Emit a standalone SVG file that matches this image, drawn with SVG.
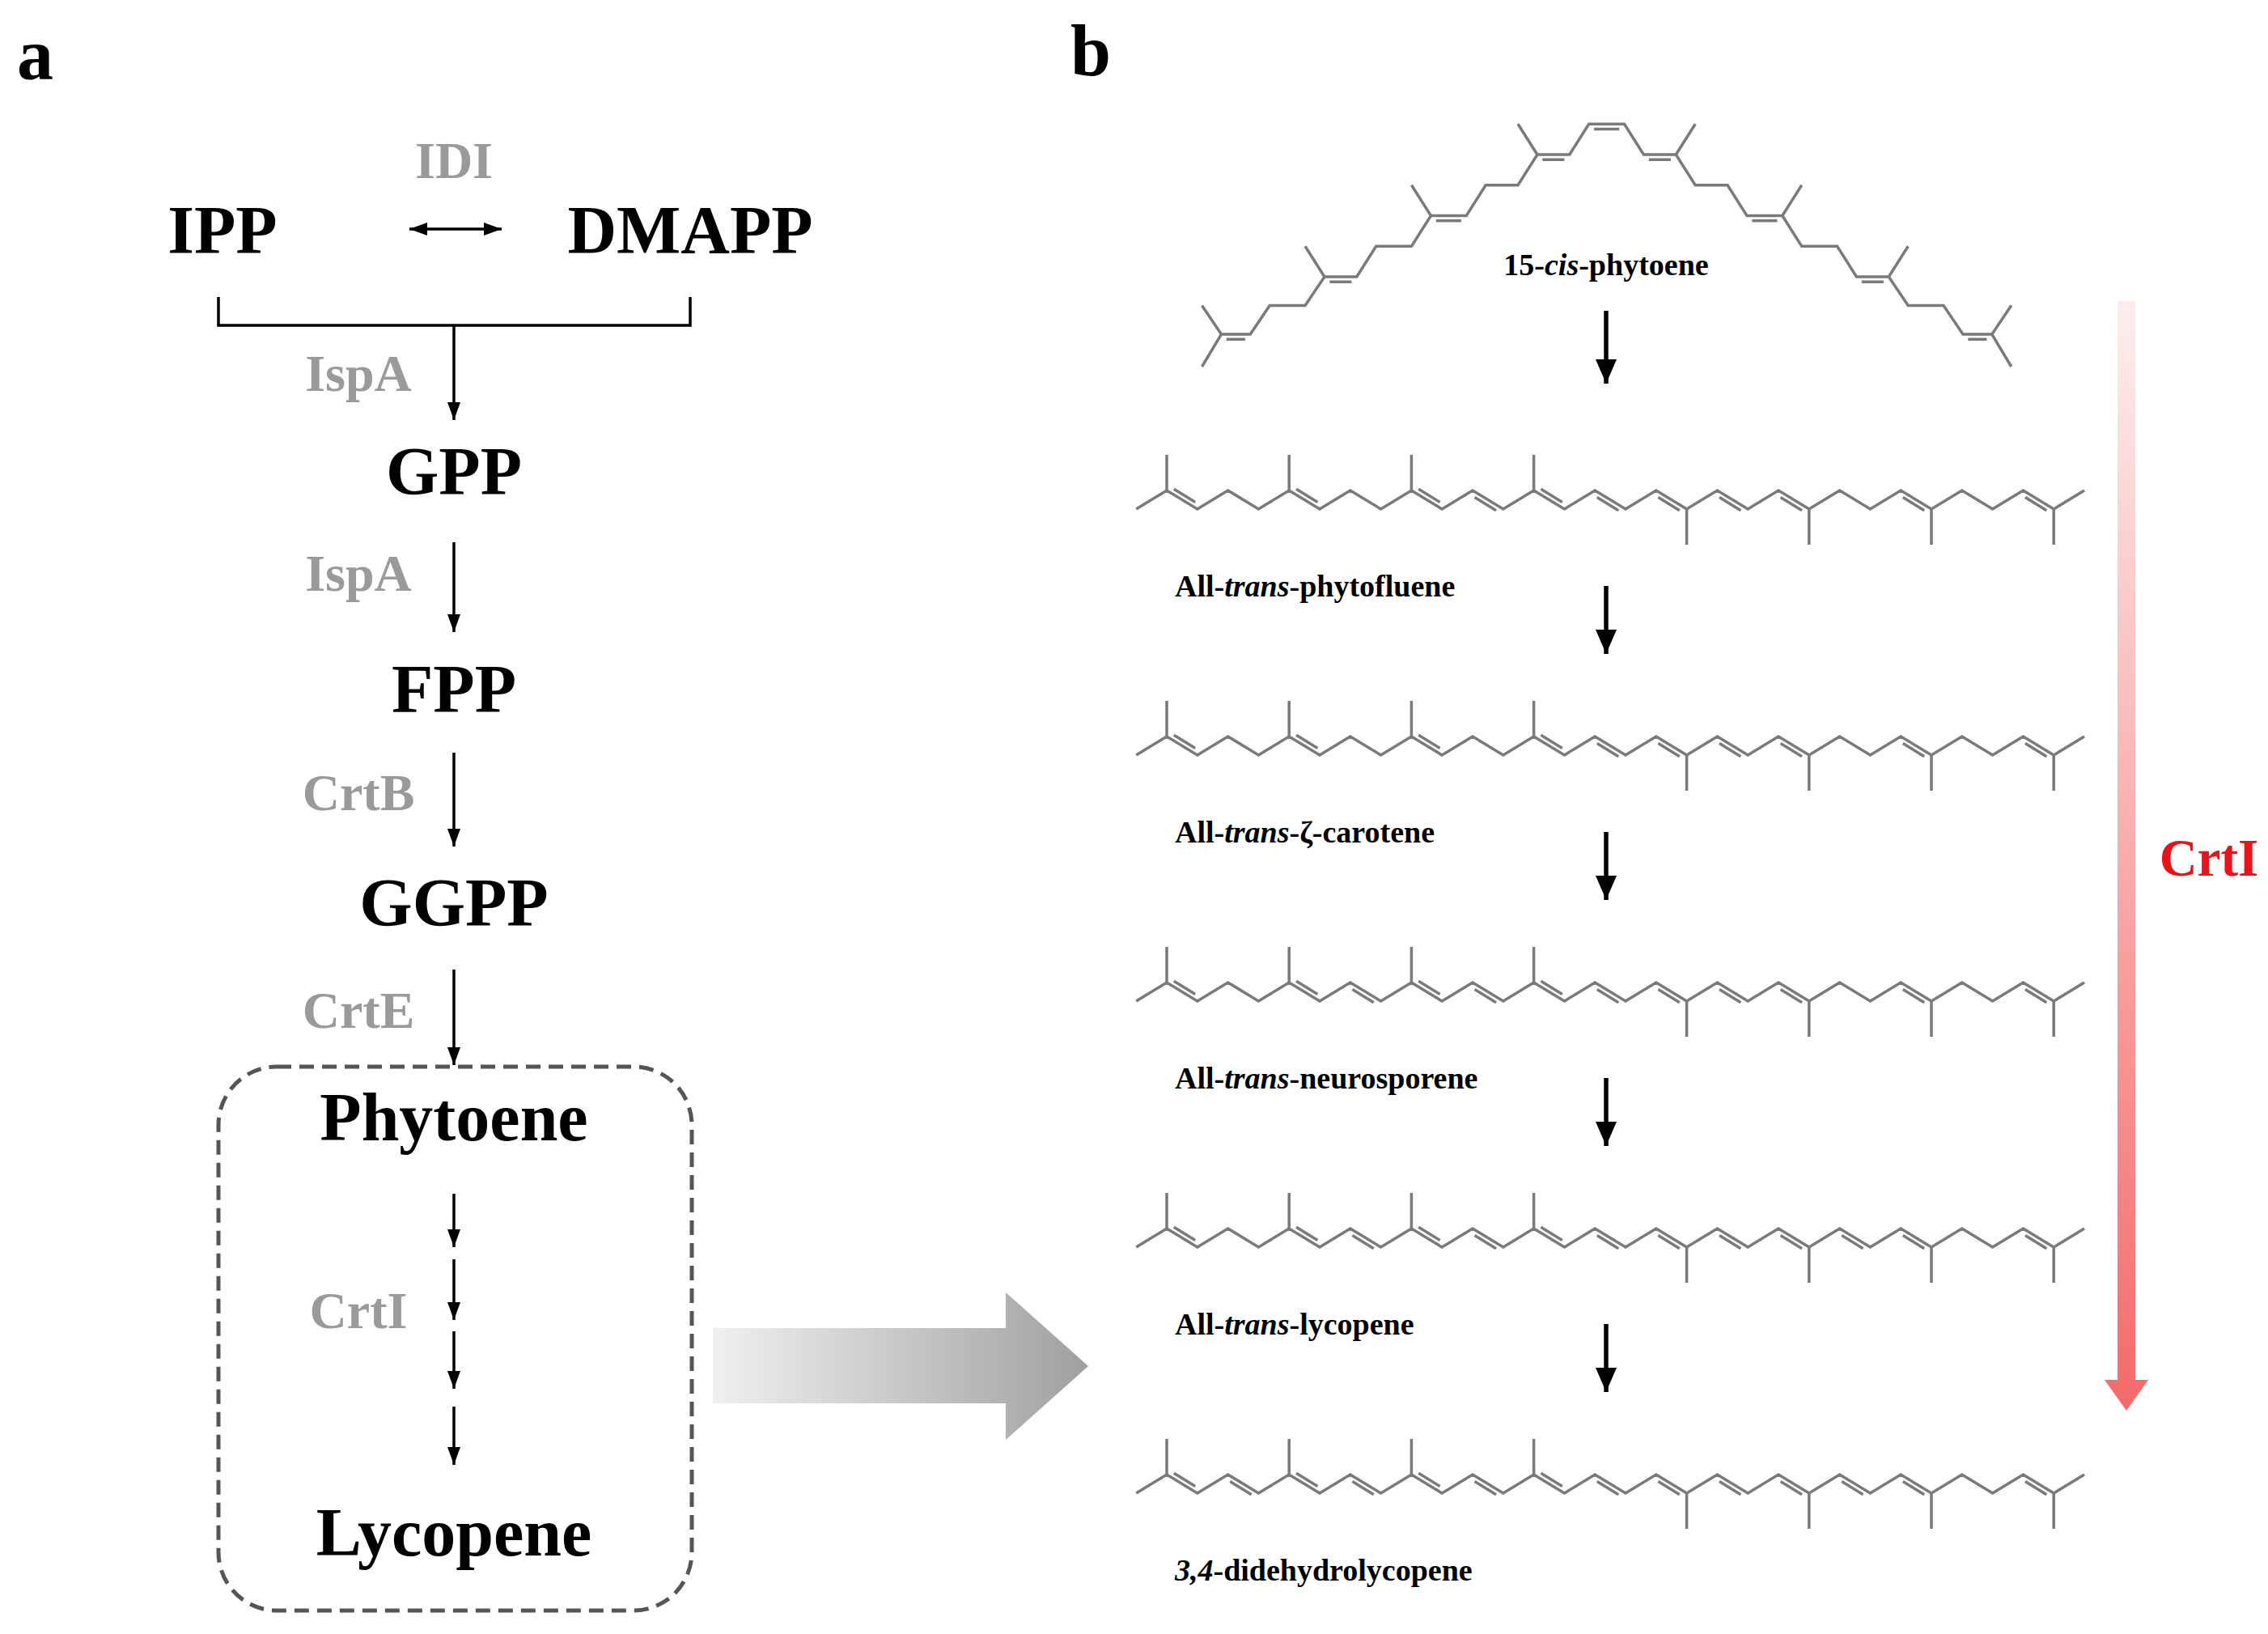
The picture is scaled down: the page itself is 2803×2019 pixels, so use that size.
<svg xmlns="http://www.w3.org/2000/svg" xmlns:xlink="http://www.w3.org/1999/xlink" width="2803" height="2019" viewBox="0 0 2803 2019">
<style>
text{font-family:"Liberation Serif","Times New Roman",serif;font-weight:bold}
.big{font-size:84px;fill:#000}
.enz{font-size:64px;fill:#9a9a9a}
.lab{font-size:38px;fill:#000}
.it{font-style:italic}
.arr{stroke:#000;stroke-width:3.5;fill:none}
.arrb{stroke:#000;stroke-width:5.5;fill:none}
.bond{stroke:#7a7a7a;stroke-width:3.5;fill:none;stroke-linejoin:miter}
.bnd{stroke:#7a7a7a;stroke-width:3.5;fill:none;vector-effect:non-scaling-stroke}
</style>
<defs>
<marker id="ah" markerUnits="userSpaceOnUse" viewBox="0 0 22 16" markerWidth="22" markerHeight="16" refX="22" refY="8" orient="auto-start-reverse"><path d="M0,0 L22,8 L0,16 z" fill="#000"/></marker>
<marker id="ahb" markerUnits="userSpaceOnUse" viewBox="0 0 30 26" markerWidth="30" markerHeight="26" refX="30" refY="13" orient="auto"><path d="M0,0 L30,13 L0,26 z" fill="#000"/></marker>
<linearGradient id="gGray" x1="0" y1="0" x2="1" y2="0"><stop offset="0" stop-color="#f0f0f0"/><stop offset="1" stop-color="#a0a0a0"/></linearGradient>
<linearGradient id="gRed" x1="0" y1="0" x2="0" y2="1"><stop offset="0" stop-color="#fdeeee"/><stop offset="1" stop-color="#f46a6a"/></linearGradient>
<g id="chain">
<polyline class="bond" points="-37.8,23 0,0 37.8,23 75.6,0 113.4,23 151.2,0 189,23 226.8,0 264.6,23 302.4,0 340.2,23 378,0 415.8,23 453.6,0 491.4,23 529.2,0 567,23 604.8,0 642.6,23 680.4,0 718.2,23 756,0 793.8,23 831.6,0 869.4,23 907.2,0 945,23 982.8,0 1020.6,23 1058.4,0 1096.2,23 1134,0"/>
<path class="bond" d="M0,0V-44M151.2,0V-44M302.4,0V-44M453.6,0V-44M642.6,23V67M793.8,23V67M945,23V67M1096.2,23V67"/>
</g>
<line id="dU" class="bond" x1="8.8" y1="-1.65" x2="35.2" y2="14.45"/>
<line id="dL" class="bond" x1="2.6" y1="8.55" x2="29" y2="24.65"/>
</defs>

<text x="21" y="98" style="font-size:90px">a</text>
<text x="1323" y="93" style="font-size:90px">b</text>

<g id="IPP"><text class="big" x="275" y="313" text-anchor="middle">IPP</text></g>
<g id="DMAPP"><text class="big" x="853" y="313" text-anchor="middle">DMAPP</text></g>
<g id="IDI"><text class="enz" x="561" y="220" text-anchor="middle">IDI</text></g>
<g id="GPP"><text class="big" x="561" y="611" text-anchor="middle">GPP</text></g>
<g id="FPP"><text class="big" x="561" y="880" text-anchor="middle">FPP</text></g>
<g id="GGPP"><text class="big" x="561" y="1144" text-anchor="middle">GGPP</text></g>
<g id="enzymes">
<text class="enz" x="443" y="483" text-anchor="middle">IspA</text>
<text class="enz" x="443" y="730" text-anchor="middle">IspA</text>
<text class="enz" x="443" y="1001" text-anchor="middle">CrtB</text>
<text class="enz" x="443" y="1270" text-anchor="middle">CrtE</text>
<text class="enz" x="443" y="1641" text-anchor="middle">CrtI</text>
</g>
<g id="box">
<rect x="270" y="1318" width="585" height="672" rx="72" fill="none" stroke="#555" stroke-width="5" stroke-dasharray="18 10"/>
<text class="big" x="561" y="1409" text-anchor="middle">Phytoene</text>
<text class="big" x="561" y="1922" text-anchor="middle">Lycopene</text>
</g>

<g id="connectors">
<line class="arr" x1="506" y1="283" x2="620" y2="283" marker-start="url(#ah)" marker-end="url(#ah)"/>
<path class="arr" d="M270,367V402H853V367"/>
<line class="arr" x1="561" y1="402" x2="561" y2="519" marker-end="url(#ah)"/>
<line class="arr" x1="561" y1="670" x2="561" y2="781" marker-end="url(#ah)"/>
<line class="arr" x1="561" y1="930" x2="561" y2="1046" marker-end="url(#ah)"/>
<line class="arr" x1="561" y1="1198" x2="561" y2="1316" marker-end="url(#ah)"/>
<line class="arr" x1="561" y1="1475" x2="561" y2="1541" marker-end="url(#ah)"/>
<line class="arr" x1="561" y1="1556" x2="561" y2="1631" marker-end="url(#ah)"/>
<line class="arr" x1="561" y1="1645" x2="561" y2="1716" marker-end="url(#ah)"/>
<line class="arr" x1="561" y1="1738" x2="561" y2="1810" marker-end="url(#ah)"/>
<polygon points="881,1641 1243,1641 1243,1597 1345,1688 1243,1779 1243,1734 881,1734" fill="url(#gGray)"/>
<line class="arrb" x1="1985" y1="384" x2="1985" y2="474" marker-end="url(#ahb)"/>
<line class="arrb" x1="1985" y1="724" x2="1985" y2="808" marker-end="url(#ahb)"/>
<line class="arrb" x1="1985" y1="1028" x2="1985" y2="1112" marker-end="url(#ahb)"/>
<line class="arrb" x1="1985" y1="1332" x2="1985" y2="1416" marker-end="url(#ahb)"/>
<line class="arrb" x1="1985" y1="1636" x2="1985" y2="1720" marker-end="url(#ahb)"/>
<polygon points="2617,372 2639,372 2639,1705 2655,1705 2628,1743 2601,1705 2617,1705" fill="url(#gRed)"/>
</g>
<g id="CrtI-red"><text x="2730" y="1082" text-anchor="middle" style="font-size:65px;fill:#e8141c">CrtI</text></g>

<g id="phytoene">
<g transform="translate(1350,100) scale(0.797,0.444)">
<polyline class="bnd" points="170,795 200,705 245,705 275,625 330,625 360,545 410,545 440,460 495,460 525,375 580,375 610,290 660,290 690,205 740,205 770,120 825,120 855,205 905,205 935,290 985,290 1015,375 1070,375 1100,460 1155,460 1185,545 1235,545 1265,625 1320,625 1350,705 1395,705 1425,795"/>
<path class="bnd" d="M200,705L170,625M360,545L330,460M525,375L495,290M690,205L660,120M1395,705L1425,625M1235,545L1265,460M1070,375L1100,290M905,205L935,120M208,719H237M368,559H402M533,389H572M698,219H732M778,134H817M863,219H897M1023,389H1062M1193,559H1227M1358,719H1387"/>
</g>
<text class="lab" x="1985" y="340" text-anchor="middle">15-<tspan class="it">cis</tspan>-phytoene</text>
</g>

<g id="phytofluene">
<use href="#chain" x="1442" y="606"/>
<use href="#dU" x="1442" y="606"/><use href="#dU" x="1593.2" y="606"/><use href="#dU" x="1744.4" y="606"/><use href="#dL" x="1820" y="606"/><use href="#dU" x="1895.6" y="606"/><use href="#dL" x="1971.2" y="606"/><use href="#dL" x="2046.8" y="606"/><use href="#dL" x="2122.4" y="606"/><use href="#dL" x="2198" y="606"/><use href="#dL" x="2349.2" y="606"/><use href="#dL" x="2500.4" y="606"/>
<text class="lab" x="1452" y="737">All-<tspan class="it">trans</tspan>-phytofluene</text>
</g>
<g id="zeta-carotene">
<use href="#chain" x="1442" y="910"/>
<use href="#dU" x="1442" y="910"/><use href="#dU" x="1593.2" y="910"/><use href="#dU" x="1744.4" y="910"/><use href="#dU" x="1895.6" y="910"/><use href="#dL" x="1971.2" y="910"/><use href="#dL" x="2046.8" y="910"/><use href="#dL" x="2122.4" y="910"/><use href="#dL" x="2198" y="910"/><use href="#dL" x="2349.2" y="910"/><use href="#dL" x="2500.4" y="910"/>
<text class="lab" x="1452" y="1041">All-<tspan class="it">trans</tspan>-ζ-carotene</text>
</g>
<g id="neurosporene">
<use href="#chain" x="1442" y="1214"/>
<use href="#dU" x="1442" y="1214"/><use href="#dU" x="1593.2" y="1214"/><use href="#dL" x="1668.8" y="1214"/><use href="#dU" x="1744.4" y="1214"/><use href="#dL" x="1820" y="1214"/><use href="#dU" x="1895.6" y="1214"/><use href="#dL" x="1971.2" y="1214"/><use href="#dL" x="2046.8" y="1214"/><use href="#dL" x="2122.4" y="1214"/><use href="#dL" x="2198" y="1214"/><use href="#dL" x="2349.2" y="1214"/><use href="#dL" x="2500.4" y="1214"/>
<text class="lab" x="1452" y="1345">All-<tspan class="it">trans</tspan>-neurosporene</text>
</g>
<g id="lycopene">
<use href="#chain" x="1442" y="1518"/>
<use href="#dU" x="1442" y="1518"/><use href="#dU" x="1593.2" y="1518"/><use href="#dL" x="1668.8" y="1518"/><use href="#dU" x="1744.4" y="1518"/><use href="#dL" x="1820" y="1518"/><use href="#dU" x="1895.6" y="1518"/><use href="#dL" x="1971.2" y="1518"/><use href="#dL" x="2046.8" y="1518"/><use href="#dL" x="2122.4" y="1518"/><use href="#dL" x="2198" y="1518"/><use href="#dL" x="2273.6" y="1518"/><use href="#dL" x="2349.2" y="1518"/><use href="#dL" x="2500.4" y="1518"/>
<text class="lab" x="1452" y="1649">All-<tspan class="it">trans</tspan>-lycopene</text>
</g>
<g id="didehydrolycopene">
<use href="#chain" x="1442" y="1822"/>
<use href="#dU" x="1442" y="1822"/><use href="#dL" x="1517.6" y="1822"/><use href="#dU" x="1593.2" y="1822"/><use href="#dL" x="1668.8" y="1822"/><use href="#dU" x="1744.4" y="1822"/><use href="#dL" x="1820" y="1822"/><use href="#dU" x="1895.6" y="1822"/><use href="#dL" x="1971.2" y="1822"/><use href="#dL" x="2046.8" y="1822"/><use href="#dL" x="2122.4" y="1822"/><use href="#dL" x="2198" y="1822"/><use href="#dL" x="2273.6" y="1822"/><use href="#dL" x="2349.2" y="1822"/><use href="#dL" x="2500.4" y="1822"/>
<text class="lab" x="1452" y="1953"><tspan class="it">3,4</tspan>-didehydrolycopene</text>
</g>
</svg>
